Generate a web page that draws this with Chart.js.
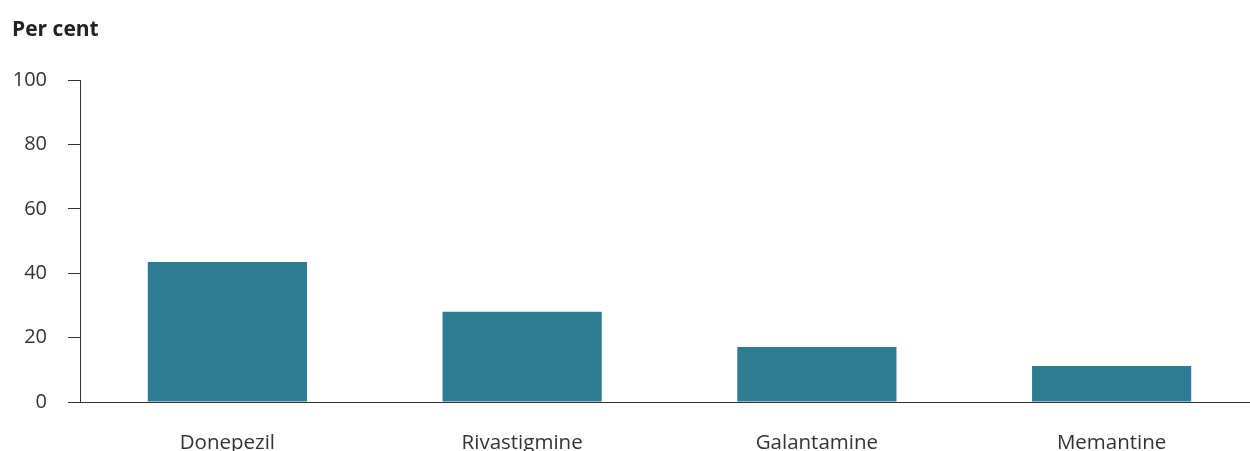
<!DOCTYPE html>
<html>
<head>
<meta charset="utf-8">
<script src="https://cdn.jsdelivr.net/npm/chart.js@4.4.1/dist/chart.umd.min.js"></script>
<style>
  html, body { margin: 0; padding: 0; background: #fff; overflow: hidden; }
  #wrap { width: 1259px; height: 451px; position: relative; }
</style>
</head>
<body>
<div id="wrap"><canvas id="chart"></canvas></div>
<script>
// Share of dementia-medication prescriptions by drug
const categories = ['Donepezil', 'Rivastigmine', 'Galantamine', 'Memantine'];
const values = [43.5, 28.0, 17.1, 11.2];
const yTicks = [0, 20, 40, 60, 80, 100];

const FONT = '"Open Sans", "Noto Sans", sans-serif';
const INK = '#333333';

// Axis title drawn top-left above the plot
const unitLabel = {
  id: 'unitLabel',
  afterDraw(chart) {
    const ctx = chart.ctx;
    ctx.save();
    ctx.font = 'bold 21px ' + FONT;
    ctx.fillStyle = '#222222';
    ctx.textAlign = 'left';
    ctx.textBaseline = 'alphabetic';
    ctx.fillText('Per cent', 12, 36);
    ctx.restore();
  }
};

new Chart(document.getElementById('chart'), {
  type: 'bar',
  data: {
    labels: categories,
    datasets: [{
      data: values,
      backgroundColor: '#2c7c94',
      borderWidth: 0,
      categoryPercentage: 1,
      barPercentage: 0.54
    }]
  },
  options: {
    responsive: true,
    maintainAspectRatio: false,
    animation: false,
    layout: { padding: { top: 80, left: 0, right: 0, bottom: 0 } },
    plugins: { legend: { display: false }, tooltip: { enabled: false } },
    scales: {
      x: {
        z: 1,
        grid: { display: false },
        border: { display: true, color: INK, width: 1 },
        ticks: { color: INK, font: { family: FONT, size: 20.5 }, padding: 21, maxRotation: 0 },
        afterFit(scale) { scale.height = 49; }
      },
      y: {
        min: 0,
        max: 100,
        afterBuildTicks(scale) { scale.ticks = yTicks.map(v => ({ value: v })); },
        grid: { drawOnChartArea: false, drawTicks: true, tickLength: 12, color: INK },
        border: { display: true, color: INK, width: 1 },
        ticks: { color: INK, font: { family: FONT, size: 20 }, padding: 21 },
        afterFit(scale) { scale.width = 80; }
      }
    }
  },
  plugins: [unitLabel]
});
</script>
</body>
</html>
